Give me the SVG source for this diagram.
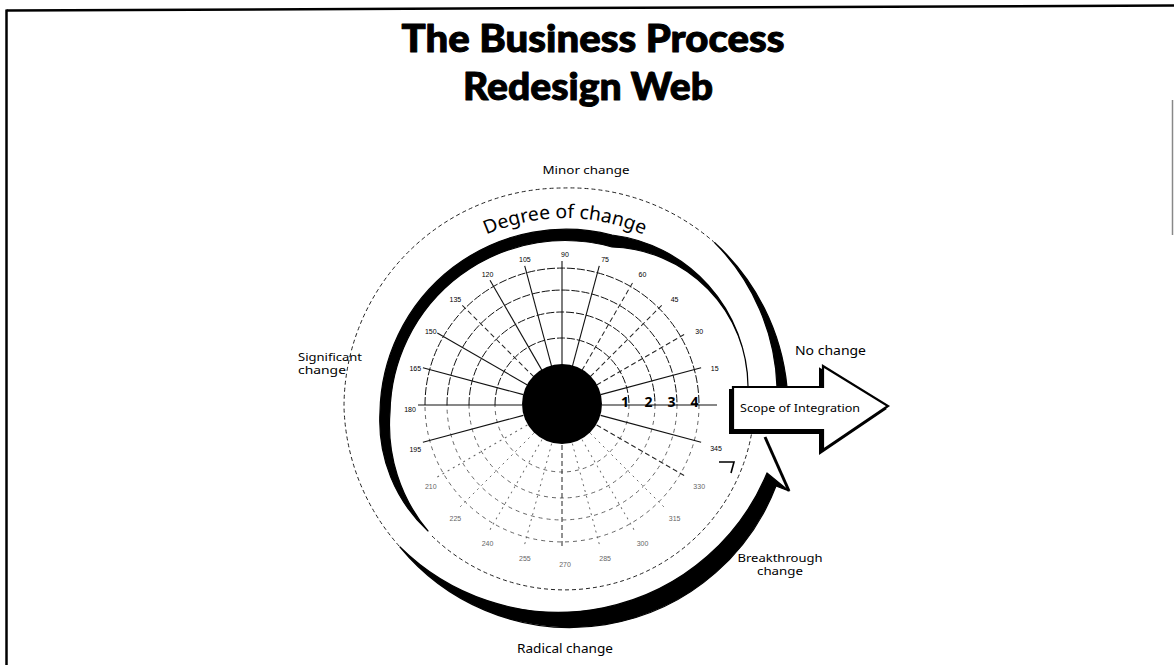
<svg xmlns="http://www.w3.org/2000/svg" xmlns:xlink="http://www.w3.org/1999/xlink" width="1174" height="665" viewBox="0 0 1174 665">
  <style>
    .sans { font-family: "Noto Sans", "Open Sans", "Liberation Sans", sans-serif; fill: #000; }
    .title { font-family: Lato, "Liberation Sans", sans-serif; font-weight: 900; font-size: 38px; fill: #000; stroke: #000; stroke-width: 1; stroke-linejoin: round; }
    .deg { font-family: "Liberation Sans", sans-serif; font-size: 7px; text-anchor: middle; fill: #000; }
    .deg.lo { fill: #666; }
    .ring-up { fill: none; stroke: #111; stroke-width: 1; stroke-dasharray: 8 2; }
    .ring-lo { fill: none; stroke: #555; stroke-width: 0.9; stroke-dasharray: 4 4; }
    .spk { stroke: #111; stroke-width: 1.1; }
    .spk-d { stroke: #222; stroke-width: 1; stroke-dasharray: 5 3; }
    .spk-f { stroke: #666; stroke-width: 0.9; stroke-dasharray: 2 4; }
    .dash { fill: none; stroke: #222; stroke-width: 1; stroke-dasharray: 4 3; }
    .ink { fill: #000; stroke: #000; stroke-width: 1.2; stroke-linejoin: round; }
  </style>
  <defs>
    <line id="spoke" x1="602" y1="405" x2="706" y2="405"/>
    <path id="degreePath" d="M 371,412 A 194 194 0 0 1 759,412"/>
    <polygon id="scopeShape" points="733,387 823,387 823,366 888,406 823,450 823,430 733,430"/>
  </defs>

  <rect width="1174" height="665" fill="#fff"/>

  <!-- page frame -->
  <g id="frame" fill="none" stroke="#000">
    <line x1="6.5" y1="10.5" x2="1174" y2="5.5" stroke-width="2.5"/>
    <line x1="6.5" y1="9.5" x2="6.5" y2="665" stroke-width="2.5"/>
    <line x1="1172.5" y1="100" x2="1172.5" y2="235" stroke="#888" stroke-width="1.5"/>
  </g>

  <!-- heading -->
  <g id="title">
    <text class="title" x="593" y="52" text-anchor="middle" textLength="383" lengthAdjust="spacingAndGlyphs">The Business Process</text>
    <text class="title" x="588" y="100" text-anchor="middle" textLength="250" lengthAdjust="spacingAndGlyphs">Redesign Web</text>
  </g>

  <!-- polar web -->
  <g id="web">
    <path class="ring-up" d="M 495,405 A 67 67 0 0 1 629,405"/>
    <path class="ring-up" d="M 469,405 A 93 93 0 0 1 655,405"/>
    <path class="ring-up" d="M 447,405 A 115 115 0 0 1 677,405"/>
    <path class="ring-up" d="M 425,405 A 137 137 0 0 1 699,405"/>
    <path class="ring-lo" d="M 629,405 A 67 67 0 0 1 495,405"/>
    <path class="ring-lo" d="M 655,405 A 93 93 0 0 1 469,405"/>
    <path class="ring-lo" d="M 677,405 A 115 115 0 0 1 447,405"/>
    <path class="ring-lo" d="M 699,405 A 137 137 0 0 1 425,405"/>

    <line class="spk" x1="602" y1="405" x2="717" y2="405"/>
    <use href="#spoke" class="spk" transform="rotate(-15 562 405)"/>
    <use href="#spoke" class="spk-d" transform="rotate(-30 562 405)"/>
    <use href="#spoke" class="spk-d" transform="rotate(-45 562 405)"/>
    <use href="#spoke" class="spk-d" transform="rotate(-60 562 405)"/>
    <use href="#spoke" class="spk" transform="rotate(-75 562 405)"/>
    <use href="#spoke" class="spk" transform="rotate(-90 562 405)"/>
    <use href="#spoke" class="spk" transform="rotate(-105 562 405)"/>
    <use href="#spoke" class="spk" transform="rotate(-120 562 405)"/>
    <use href="#spoke" class="spk-d" transform="rotate(-135 562 405)"/>
    <use href="#spoke" class="spk" transform="rotate(-150 562 405)"/>
    <use href="#spoke" class="spk" transform="rotate(-165 562 405)"/>
    <use href="#spoke" class="spk" transform="rotate(-180 562 405)"/>
    <use href="#spoke" class="spk" transform="rotate(-195 562 405)"/>
    <use href="#spoke" class="spk-f" transform="rotate(-210 562 405)"/>
    <use href="#spoke" class="spk-f" transform="rotate(-225 562 405)"/>
    <use href="#spoke" class="spk-f" transform="rotate(-240 562 405)"/>
    <use href="#spoke" class="spk-f" transform="rotate(-255 562 405)"/>
    <use href="#spoke" class="spk-d" transform="rotate(-270 562 405)"/>
    <use href="#spoke" class="spk-f" transform="rotate(-285 562 405)"/>
    <use href="#spoke" class="spk-f" transform="rotate(-300 562 405)"/>
    <use href="#spoke" class="spk-f" transform="rotate(-315 562 405)"/>
    <use href="#spoke" class="spk-d" transform="rotate(-330 562 405)"/>
    <use href="#spoke" class="spk" transform="rotate(-345 562 405)"/>

    <circle cx="562" cy="404" r="40" fill="#000"/>

    <text class="deg" x="714.7" y="371.4">15</text>
    <text class="deg" x="699.2" y="334">30</text>
    <text class="deg" x="674.6" y="301.9">45</text>
    <text class="deg" x="642.5" y="277.3">60</text>
    <text class="deg" x="605.1" y="261.9">75</text>
    <text class="deg" x="565" y="256.5">90</text>
    <text class="deg" x="524.9" y="261.9">105</text>
    <text class="deg" x="487.5" y="277.3">120</text>
    <text class="deg" x="455.4" y="301.9">135</text>
    <text class="deg" x="430.8" y="334">150</text>
    <text class="deg" x="415.3" y="371.4">165</text>
    <text class="deg" x="410" y="411.5">180</text>
    <text class="deg" x="415.3" y="451.6">195</text>
    <text class="deg lo" x="430.8" y="489">210</text>
    <text class="deg lo" x="455.4" y="521.1">225</text>
    <text class="deg lo" x="487.5" y="545.7">240</text>
    <text class="deg lo" x="524.9" y="561.2">255</text>
    <text class="deg lo" x="565" y="566.5">270</text>
    <text class="deg lo" x="605.1" y="561.2">285</text>
    <text class="deg lo" x="642.5" y="545.7">300</text>
    <text class="deg lo" x="674.6" y="521.1">315</text>
    <text class="deg lo" x="699.2" y="489">330</text>
    <text class="deg" x="716" y="450.6">345</text>

    <g class="sans" font-size="14" font-weight="bold" text-anchor="middle">
      <text x="625" y="407">1</text>
      <text x="648.5" y="407">2</text>
      <text x="671.5" y="407">3</text>
      <text x="694.5" y="407">4</text>
    </g>
  </g>

  <!-- the two circulating arcs -->
  <g id="connectors">
    <!-- degree-of-change arc: thick over the top, dashed round the bottom -->
    <path class="ink" d="M 428,531 A 150 150 0 0 1 380,412 A 186 186 0 0 1 612,235 A 155 155 0 0 1 748,386 A 140 140 0 0 0 612,247 A 175 175 0 0 0 390,412 A 165 165 0 0 0 428,531 Z"/>
    <path class="dash" d="M 432,536 A 190 190 0 0 0 752,431"/>
    <polyline points="719,462 734,462 731,473" fill="none" stroke="#000" stroke-width="1.6"/>

    <!-- outer arc: dashed over the top, widening round the bottom -->
    <path class="dash" d="M 715,243 A 219 219 0 0 0 563,188 A 219 219 0 0 0 344,407 A 219 219 0 0 0 400,547"/>
    <path class="ink" d="M 400,547 A 220.4 220.4 0 0 0 776,486 L 789,491 L 767,473 A 225.5 225.5 0 0 1 400,547 Z"/>
    <line x1="765" y1="437" x2="789" y2="491" stroke="#000" stroke-width="3"/>
    <path class="ink" d="M 787,387 A 224 224 0 0 0 715,243 A 215 215 0 0 1 777,387 Z"/>
  </g>

  <!-- scope of integration arrow -->
  <g id="scope">
    <use href="#scopeShape" fill="#000" stroke="#000" stroke-width="2" transform="translate(-3 3)"/>
    <use href="#scopeShape" fill="#fff" stroke="#000" stroke-width="2.2" stroke-linejoin="miter"/>
    <text class="sans" x="800" y="412" font-size="11" text-anchor="middle" textLength="120" lengthAdjust="spacingAndGlyphs">Scope of Integration</text>
  </g>

  <!-- labels -->
  <g id="labels" class="sans">
    <text x="586" y="174" font-size="11" text-anchor="middle" textLength="87" lengthAdjust="spacingAndGlyphs">Minor change</text>
    <text font-size="19"><textPath href="#degreePath" startOffset="50%" text-anchor="middle" textLength="162" lengthAdjust="spacingAndGlyphs">Degree of change</textPath></text>
    <text x="298" y="361" font-size="11" textLength="64" lengthAdjust="spacingAndGlyphs">Significant</text>
    <text x="298" y="374" font-size="11" textLength="48" lengthAdjust="spacingAndGlyphs">change</text>
    <text x="795" y="355" font-size="13" textLength="71" lengthAdjust="spacingAndGlyphs">No change</text>
    <text x="780" y="562" font-size="11" text-anchor="middle" textLength="85" lengthAdjust="spacingAndGlyphs">Breakthrough</text>
    <text x="780" y="575" font-size="11" text-anchor="middle" textLength="46" lengthAdjust="spacingAndGlyphs">change</text>
    <text x="565" y="653" font-size="13" text-anchor="middle" textLength="96" lengthAdjust="spacingAndGlyphs">Radical change</text>
  </g>
</svg>
